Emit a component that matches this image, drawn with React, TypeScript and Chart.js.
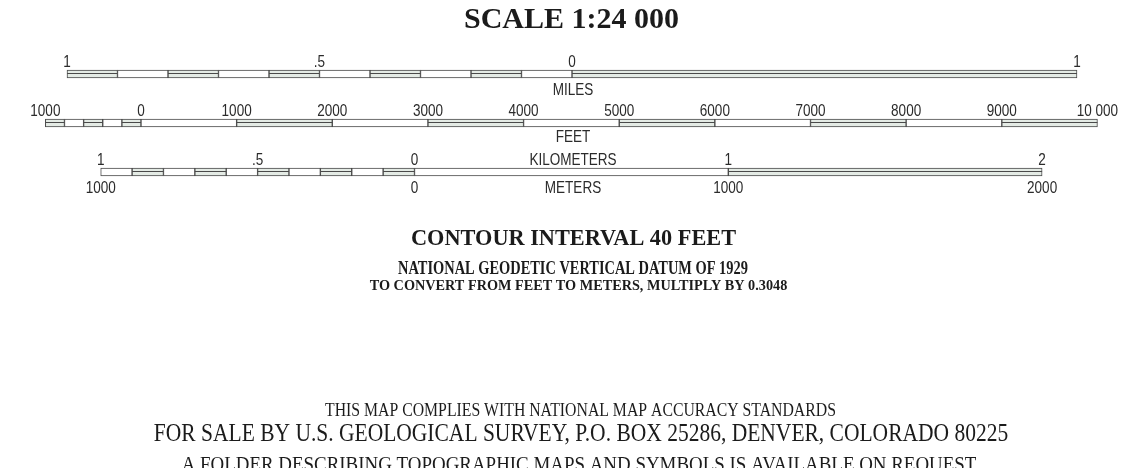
import React, { useEffect, useRef } from 'react';
import { Chart, registerables } from 'chart.js';

Chart.register(...registerables);

// ---------- data ----------
const rowNames = ['MILES', 'FEET', 'KILOMETERS'];

const milesEdges = [-1, -0.9, -0.8, -0.7, -0.6, -0.5, -0.4, -0.3, -0.2, -0.1, 0, 1];
const milesFilled = [1, 0, 1, 0, 1, 0, 1, 0, 1, 0, 1];
const milesTickValues = [-1, -0.5, 0, 1];
const milesTickLabels = ['1', '.5', '0', '1'];

const feetEdges = [-1000, -800, -600, -400, -200, 0, 1000, 2000, 3000, 4000, 5000, 6000, 7000, 8000, 9000, 10000];
const feetFilled = [1, 0, 1, 0, 1, 0, 1, 0, 1, 0, 1, 0, 1, 0, 1];
const feetTickValues = [-1000, 0, 1000, 2000, 3000, 4000, 5000, 6000, 7000, 8000, 9000, 10000];
const feetTickLabels = ['1000', '0', '1000', '2000', '3000', '4000', '5000', '6000', '7000', '8000', '9000', '10 000'];

const kmEdges = [-1, -0.9, -0.8, -0.7, -0.6, -0.5, -0.4, -0.3, -0.2, -0.1, 0, 1, 2];
const kmFilled = [0, 1, 0, 1, 0, 1, 0, 1, 0, 1, 0, 1];
const kmTickValues = [-1, -0.5, 0, 1, 2];
const kmTickLabels = ['1', '.5', '0', '1', '2'];

const meterTickValues = [-1000, 0, 1000, 2000];
const meterTickLabels = ['1000', '0', '1000', '2000'];

const titleText = 'SCALE 1:24 000';
const headerLines = [
  'CONTOUR INTERVAL 40 FEET',
  'NATIONAL GEODETIC VERTICAL DATUM OF 1929',
  'TO CONVERT FROM FEET TO METERS, MULTIPLY BY 0.3048',
];
const footerLines = [
  'THIS MAP COMPLIES WITH NATIONAL MAP ACCURACY STANDARDS',
  'FOR SALE BY U.S. GEOLOGICAL SURVEY, P.O. BOX 25286, DENVER, COLORADO 80225',
  'A FOLDER DESCRIBING TOPOGRAPHIC MAPS AND SYMBOLS IS AVAILABLE ON REQUEST',
];

// ---------- styles ----------
const LINE = '#4a4a4a';
const FILL = '#e4ebe5';
const OPEN = '#ffffff';
const TEXT = '#1b1b1b';
const LABEL_COLOR = '#2b2b2b';
const SERIF = "'Liberation Serif', 'Times New Roman', serif";
const SANS = "'Liberation Sans', Arial, sans-serif";

const headerStyles = [
  { font: `bold 23px ${SERIF}`, sx: 0.97, x: 573.5, y: 245 },
  { font: `bold 18px ${SERIF}`, sx: 0.8, x: 573, y: 274 },
  { font: `bold 15px ${SERIF}`, sx: 0.95, x: 578.5, y: 290 },
];
const footerStyles = [
  { font: `19px ${SERIF}`, sx: 0.83, x: 580.5, y: 416 },
  { font: `25px ${SERIF}`, sx: 0.86, x: 581, y: 441 },
  { font: `22px ${SERIF}`, sx: 0.86, x: 579, y: 471 },
];

function segments(edges: number[], filled: number[], want: number, row: string) {
  const out: { x: [number, number]; y: string }[] = [];
  for (let i = 0; i < edges.length - 1; i++) {
    if (filled[i] === want) out.push({ x: [edges[i], edges[i + 1]], y: row });
  }
  return out;
}

function drawText(
  ctx: CanvasRenderingContext2D,
  text: string,
  x: number,
  y: number,
  font: string,
  sx: number,
  color: string,
  align: CanvasTextAlign = 'center'
) {
  ctx.save();
  ctx.translate(x, y);
  ctx.scale(sx, 1);
  ctx.font = font;
  ctx.fillStyle = color;
  ctx.textAlign = align;
  ctx.textBaseline = 'alphabetic';
  ctx.fillText(text, 0, 0);
  ctx.restore();
}

const BAR = 8;

const scaleBarPlugin = {
  id: 'scaleBarDecor',
  afterDatasetsDraw(chart: any) {
    const ctx: CanvasRenderingContext2D = chart.ctx;
    // middle line on the "double line" segments
    chart.data.datasets.forEach((ds: any, di: number) => {
      if (!ds.doubleLine) return;
      const meta = chart.getDatasetMeta(di);
      meta.data.forEach((el: any) => {
        const p = el.getProps(['x', 'base', 'y'], true);
        const l = Math.min(p.x, p.base);
        const r = Math.max(p.x, p.base);
        ctx.save();
        ctx.strokeStyle = LINE;
        ctx.lineWidth = 1;
        ctx.beginPath();
        ctx.moveTo(l, p.y - 0.5);
        ctx.lineTo(r, p.y - 0.5);
        ctx.stroke();
        ctx.restore();
      });
    });
  },
  afterDraw(chart: any) {
    const ctx: CanvasRenderingContext2D = chart.ctx;
    const yS = chart.scales.y;
    const labelFont = `16.5px ${SANS}`;
    const lsx = 0.82;
    const unitX = chart.scales.xMi.getPixelForValue(0) + 1;

    const rows = [
      { axis: 'xMi', idx: 0, vals: milesTickValues, labs: milesTickLabels },
      { axis: 'xFt', idx: 1, vals: feetTickValues, labs: feetTickLabels },
      { axis: 'xKm', idx: 2, vals: kmTickValues, labs: kmTickLabels },
    ];
    rows.forEach((r) => {
      const yc = yS.getPixelForValue(r.idx);
      const sc = chart.scales[r.axis];
      r.vals.forEach((v, i) => {
        drawText(ctx, r.labs[i], sc.getPixelForValue(v), yc - BAR / 2 - 3, labelFont, lsx, LABEL_COLOR);
      });
    });
    const yMi = yS.getPixelForValue(0);
    const yFt = yS.getPixelForValue(1);
    const yKm = yS.getPixelForValue(2);
    drawText(ctx, rowNames[0], unitX, yMi + 21, labelFont, lsx, LABEL_COLOR);
    drawText(ctx, rowNames[1], unitX, yFt + 19, labelFont, lsx, LABEL_COLOR);
    drawText(ctx, rowNames[2], unitX, yKm - BAR / 2 - 3, labelFont, lsx, LABEL_COLOR);
    const mS = chart.scales.xM;
    meterTickValues.forEach((v, i) => {
      drawText(ctx, meterTickLabels[i], mS.getPixelForValue(v), yKm + 21, labelFont, lsx, LABEL_COLOR);
    });
    drawText(ctx, 'METERS', unitX, yKm + 21, labelFont, lsx, LABEL_COLOR);

    // headings
    drawText(ctx, titleText, 571.5, 28, `bold 30px ${SERIF}`, 1, TEXT);
    headerLines.forEach((t, i) => {
      const s = headerStyles[i];
      drawText(ctx, t, s.x, s.y, s.font, s.sx, TEXT);
    });
    footerLines.forEach((t, i) => {
      const s = footerStyles[i];
      drawText(ctx, t, s.x, s.y, s.font, s.sx, TEXT);
    });
  },
};

export default function App() {
  const ref = useRef<HTMLCanvasElement>(null);
  useEffect(() => {
    document.body.style.margin = '0';
    document.body.style.overflow = 'hidden';
    document.body.style.background = '#ffffff';
    const common = {
      borderColor: LINE,
      borderWidth: 1,
      borderSkipped: false,
      barThickness: BAR,
      grouped: false,
    };
    const chart = new Chart(ref.current as HTMLCanvasElement, {
      type: 'bar',
      data: {
        labels: rowNames,
        datasets: [
          { ...common, label: 'mi-open', xAxisID: 'xMi', data: segments(milesEdges, milesFilled, 0, 'MILES'), backgroundColor: OPEN },
          { ...common, label: 'mi-filled', xAxisID: 'xMi', data: segments(milesEdges, milesFilled, 1, 'MILES'), backgroundColor: FILL, doubleLine: true },
          { ...common, label: 'ft-open', xAxisID: 'xFt', data: segments(feetEdges, feetFilled, 0, 'FEET'), backgroundColor: OPEN },
          { ...common, label: 'ft-filled', xAxisID: 'xFt', data: segments(feetEdges, feetFilled, 1, 'FEET'), backgroundColor: FILL, doubleLine: true },
          { ...common, label: 'km-open', xAxisID: 'xKm', data: segments(kmEdges, kmFilled, 0, 'KILOMETERS'), backgroundColor: OPEN },
          { ...common, label: 'km-filled', xAxisID: 'xKm', data: segments(kmEdges, kmFilled, 1, 'KILOMETERS'), backgroundColor: FILL, doubleLine: true },
        ] as any,
      },
      options: {
        indexAxis: 'y',
        responsive: false,
        animation: false,
        devicePixelRatio: 1,
        layout: { padding: { top: 49.5, bottom: 271.5, left: 0, right: 0 } },
        plugins: { legend: { display: false }, tooltip: { enabled: false }, title: { display: false } },
        events: [],
        scales: {
          y: { type: 'category', display: false, offset: true },
          x: { type: 'linear', display: false },
          // 1 mile = 505 px, 0 mile at 572 px
          xMi: { type: 'linear', axis: 'x', display: false, min: -1.13267, max: 1.10297 },
          // 1000 ft = 95.64 px, 0 ft at 141 px
          xFt: { type: 'linear', axis: 'x', display: false, min: -1474.2, max: 10330 },
          // 1 km = 313.8 px, 0 km at 414.5 px
          xKm: { type: 'linear', axis: 'x', display: false, min: -1.3209, max: 2.2769 },
          xM: { type: 'linear', axis: 'x', display: false, min: -1320.9, max: 2276.9 },
        } as any,
      },
      plugins: [scaleBarPlugin],
    } as any);
    return () => chart.destroy();
  }, []);
  return (
    <div style={{ width: 1129, height: 468 }}>
      <canvas ref={ref} width={1129} height={468} style={{ display: 'block' }} />
    </div>
  );
}
